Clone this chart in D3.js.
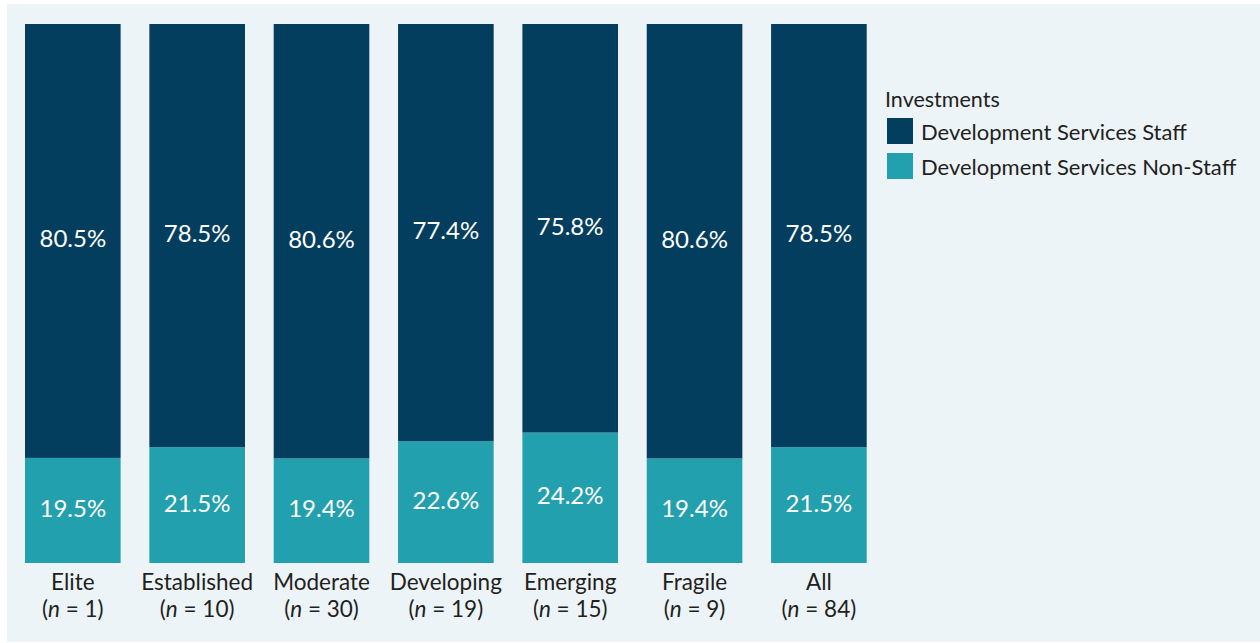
<!DOCTYPE html>
<html><head><meta charset="utf-8">
<script src="https://cdn.jsdelivr.net/npm/d3@7"></script>
<style>body{margin:0;background:#fff;}svg{display:block;font-family:Lato,"Noto Sans",sans-serif;}</style>
</head><body><svg id="c" width="1260" height="643"></svg>
<script>
const categories = ["Elite","Established","Moderate","Developing","Emerging","Fragile","All"];
const nValues = [1,10,30,19,15,9,84];
const staff = [80.5,78.5,80.6,77.4,75.8,80.6,78.5];
const nonStaff = [19.5,21.5,19.4,22.6,24.2,19.4,21.5];
const seriesNames = ["Development Services Staff","Development Services Non-Staff"];
const colors = ["#043e5e","#23a0ad"];

const svg = d3.select("#c");
svg.append("rect").attr("x",7).attr("y",4).attr("width",1253).attr("height",638).attr("fill","#ecf4f8");

const x = d3.scaleBand().domain(categories).range([25,866.7]).paddingInner(0.231).paddingOuter(0);
const y = d3.scaleLinear().domain([0,100]).range([563,24]);

const data = categories.map((c,i)=>({cat:c, n:nValues[i], v:[nonStaff[i], staff[i]]}));
const g = svg.append("g");
data.forEach(d=>{
  const segs = [{lo:0,hi:d.v[0],col:colors[1],val:d.v[0]},{lo:d.v[0],hi:100,col:colors[0],val:d.v[1]}];
  segs.forEach(s=>{
    g.append("rect").attr("x",x(d.cat)).attr("width",x.bandwidth())
      .attr("y",y(s.hi)).attr("height",y(s.lo)-y(s.hi)).attr("fill",s.col);
    g.append("text").attr("x",x(d.cat)+x.bandwidth()/2).attr("y",(y(s.hi)+y(s.lo))/2-3)
      .attr("text-anchor","middle").attr("dominant-baseline","central")
      .attr("fill","#fff").attr("font-size",24).text(s.val.toFixed(1)+"%");
  });
  const cx = x(d.cat)+x.bandwidth()/2;
  g.append("text").attr("x",cx).attr("y",589.5).attr("text-anchor","middle")
    .attr("fill","#231f20").attr("font-size",22.5).text(d.cat);
  const t2 = g.append("text").attr("x",cx).attr("y",616.5).attr("text-anchor","middle")
    .attr("fill","#231f20").attr("font-size",22.5);
  t2.append("tspan").text("(");
  t2.append("tspan").attr("font-style","italic").text("n");
  t2.append("tspan").text(" = "+d.n+")");
});

const lg = svg.append("g");
lg.append("text").attr("x",885).attr("y",106.5).attr("font-size",21.5).attr("fill","#231f20").text("Investments");
seriesNames.forEach((s,i)=>{
  lg.append("rect").attr("x",887).attr("y",118+i*35).attr("width",26).attr("height",26).attr("fill",colors[i]);
  lg.append("text").attr("x",921).attr("y",131+i*35).attr("dominant-baseline","central")
    .attr("font-size",22).attr("fill","#231f20").text(s);
});
</script></body></html>
